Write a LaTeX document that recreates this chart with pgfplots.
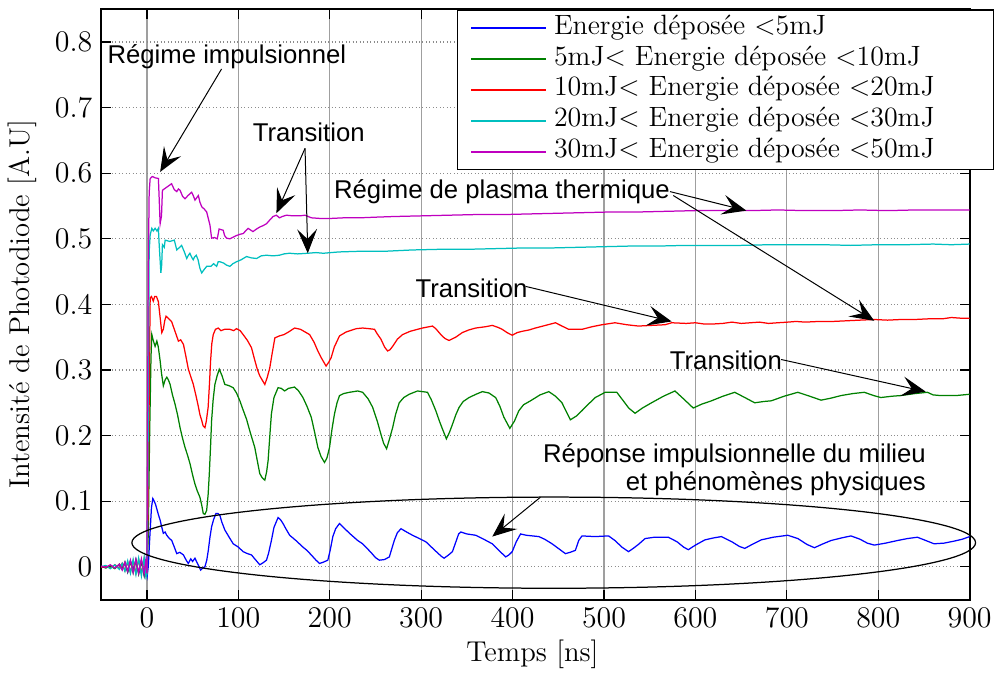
\documentclass[border=0pt]{standalone}
\usepackage{fontspec}
\usepackage{pgfplots}
\pgfplotsset{compat=1.18}
\usetikzlibrary{arrows.meta}
\newfontfamily\annot{Liberation Sans}
\definecolor{mblue}{rgb}{0,0,1}
\definecolor{mgreen}{rgb}{0,0.5,0}
\definecolor{mred}{rgb}{1,0,0}
\definecolor{mcyan}{rgb}{0,0.75,0.75}
\definecolor{mmag}{rgb}{0.75,0,0.75}
\tikzset{ann/.style={-{Stealth[length=3.4mm,width=2.8mm,inset=1.4mm]},line width=0.4pt,black}}
\newcommand{\pad}{\hspace*{0.62cm}}
\begin{document}
\begin{tikzpicture}
\begin{axis}[
  scale only axis, width=12.236cm, height=8.316cm,
  xmin=-50, xmax=900, ymin=-0.05, ymax=0.85,
  xtick={0,100,200,300,400,500,600,700,800,900},
  ytick={0,0.1,0.2,0.3,0.4,0.5,0.6,0.7,0.8},
  yticklabel style={/pgf/number format/fixed,/pgf/number format/precision=1},
  ticklabel style={font=\fontsize{11.5}{13}\selectfont},
  tick align=inside, tick pos=both, xticklabel pos=lower, yticklabel pos=left,
  major tick length=4pt, tick style={black, line width=0.5pt},
  axis line style={line width=0.8pt},
  xmajorgrids, ymajorgrids,
  x grid style={gray!75, line width=0.5pt},
  y grid style={gray!90, densely dotted, line width=0.5pt},
  xlabel={Temps [ns]},
  ylabel={Intensité de Photodiode [A.U]},
  label style={font=\fontsize{11.5}{13}\selectfont},
  xlabel style={at={(rel axis cs:0.4966,-0.092)}, anchor=center},
  ylabel style={at={(rel axis cs:-0.0904,0.5)}, anchor=center},
  clip=false,
  legend style={at={(rel axis cs:0.4096,1)}, anchor=north west, draw=black, line width=0.5pt,
    font=\fontsize{11.2}{12}\selectfont, inner xsep=5pt, inner ysep=1pt, row sep=0pt, column sep=2pt,
    nodes={inner sep=1pt, text height=7.7pt, text depth=2.7pt}},
  legend cell align=left,
  legend image code/.code={\draw[#1,line width=0.8pt] (0cm,0cm) -- (1.05cm,0cm);},
  every axis plot/.append style={line width=0.5pt},
]
% blue
\addplot[mblue] coordinates {
(-50,0.000)(-45,-0.001)(-40,0.002)(-35,-0.002)(-30,0.003)(-27,-0.004)(-24,0.006)(-21,-0.008)(-18,0.009)(-15,-0.006)(-12,0.011)(-9,-0.010)(-6,0.009)(-3,-0.012)(-1,0.010)(0.5,-0.012)
(1.5,0.000)(3,0.040)(5,0.090)(6.5,0.104)(8,0.100)(9.5,0.095)(10.9,0.088)(12.5,0.080)(14.5,0.071)(16,0.062)(18,0.051)(20,0.053)(21.8,0.048)(24,0.044)(27.2,0.040)(30,0.030)(32.7,0.020)(36,0.022)(40,0.018)(43,0.010)(45.3,0.005)(48,0.012)(50,0.008)(52.6,0.013)(55,0.006)(58.8,-0.005)(61,-0.002)(63.5,0.000)(65.5,0.010)(67.2,0.025)(69,0.045)(70.8,0.061)(73,0.072)(75.5,0.081)(78,0.081)(79.9,0.078)(82,0.068)(85.3,0.056)(90,0.045)(94.4,0.035)(100,0.030)(105.3,0.023)(110,0.020)(114.4,0.018)(118,0.012)(123.5,0.003)(127,0.006)(130.8,0.010)(133,0.020)(136.2,0.040)(139,0.060)(143.5,0.075)(146,0.072)(148.9,0.066)(152,0.058)(156.2,0.048)(163,0.040)(170.7,0.030)(175,0.025)(179.8,0.018)(185,0.010)(188.9,0.005)(193,0.007)(197.9,0.010)(200.5,0.025)(203.4,0.046)(206.5,0.058)(210.7,0.066)(215,0.060)(221.6,0.051)(230.6,0.040)(236,0.035)(245,0.022)(250,0.014)(254.3,0.010)(260,0.011)(265.2,0.015)(268,0.028)(270.6,0.040)(274,0.052)(278,0.058)(284,0.053)(290.6,0.048)(298,0.043)(305.2,0.038)(315,0.025)(322,0.016)(325.1,0.013)(330,0.018)(334.2,0.023)(338,0.038)(341,0.050)(343.3,0.053)(350,0.050)(359.7,0.048)(367,0.043)(377.8,0.035)(385,0.025)(392.4,0.015)(396,0.018)(399.6,0.023)(404,0.038)(408.7,0.050)(415,0.048)(428.7,0.046)(435,0.042)(443.2,0.035)(450,0.028)(457.8,0.020)(463,0.022)(468.7,0.025)(472.3,0.040)(475.9,0.047)(490,0.046)(505,0.047)(512,0.040)(519.5,0.030)(526.8,0.023)(532,0.028)(537.6,0.034)(545,0.043)(555,0.045)(570.4,0.045)(580,0.038)(587,0.030)(592.2,0.026)(600,0.033)(610.4,0.041)(620,0.044)(628.5,0.046)(640,0.038)(648,0.031)(654,0.028)(662,0.034)(672,0.041)(685,0.045)(701,0.048)(712,0.043)(722,0.034)(730.2,0.029)(738,0.034)(748.3,0.040)(760,0.044)(770.1,0.047)(780,0.042)(788,0.036)(795.6,0.033)(808,0.036)(821,0.040)(832,0.043)(842.8,0.045)(852,0.040)(861,0.035)(872,0.036)(882.8,0.039)(892,0.042)(900,0.046)
};
\addlegendentry{Energie déposée <5mJ\pad}
% green
\addplot[mgreen] coordinates {
(-50,0.001)(-45,-0.002)(-40,0.001)(-35,-0.003)(-30,0.004)(-27,-0.003)(-24,0.007)(-21,-0.008)(-18,0.008)(-15,-0.009)(-12,0.010)(-9,-0.011)(-6,0.009)(-3,-0.013)(-1,0.011)(0,-0.010)
(1.5,0.050)(3,0.200)(4.5,0.320)(5.4,0.354)(7,0.345)(9,0.336)(10.9,0.344)(12.5,0.335)(14.5,0.314)(16,0.295)(18,0.276)(20,0.285)(21.8,0.289)(23.5,0.285)(25.4,0.278)(28,0.262)(30.8,0.248)(33.5,0.232)(36.3,0.212)(39,0.196)(41.7,0.182)(44.5,0.170)(47.2,0.157)(50,0.140)(52.6,0.126)(55,0.116)(58,0.106)(60,0.094)(61.7,0.081)(63.5,0.080)(65.4,0.086)(67,0.110)(68.3,0.142)(69.7,0.185)(70.8,0.223)(72.5,0.255)(74.4,0.278)(77,0.292)(79.2,0.301)(82,0.292)(85.3,0.278)(90,0.276)(94.4,0.273)(98,0.265)(101.7,0.253)(105,0.240)(109,0.225)(113,0.205)(118,0.182)(121,0.160)(123.5,0.142)(126,0.136)(129,0.132)(131,0.145)(132.6,0.162)(134.5,0.200)(136.2,0.233)(139,0.258)(143.5,0.273)(147,0.272)(150.7,0.268)(155,0.272)(161.6,0.274)(166,0.268)(170.7,0.258)(175,0.245)(179.8,0.228)(183.5,0.205)(187,0.182)(190.5,0.168)(194.3,0.159)(197,0.166)(199.8,0.182)(202.5,0.210)(205.2,0.233)(208,0.250)(210.7,0.261)(215,0.264)(221.6,0.266)(230.6,0.268)(236,0.266)(242,0.256)(247,0.243)(252,0.222)(256,0.202)(259,0.188)(262.2,0.180)(265,0.193)(268.8,0.212)(272,0.232)(276,0.250)(281,0.258)(287,0.263)(296,0.268)(306.9,0.266)(311,0.255)(316,0.238)(320,0.222)(323.3,0.210)(327.6,0.195)(331,0.205)(334.2,0.217)(338,0.232)(341.5,0.243)(346,0.252)(352.4,0.258)(360,0.263)(366.9,0.267)(374,0.265)(381.5,0.258)(386,0.245)(390.5,0.228)(397,0.211)(402,0.222)(406.9,0.238)(412,0.247)(419.6,0.253)(430,0.262)(439.6,0.267)(447,0.260)(454,0.250)(459,0.236)(463.2,0.224)(470,0.230)(475.9,0.238)(483,0.248)(490.5,0.258)(501.3,0.266)(514,0.266)(520,0.255)(527,0.242)(534,0.234)(542,0.242)(552,0.250)(565,0.260)(577.6,0.268)(587,0.256)(597.6,0.242)(607,0.248)(617.6,0.253)(630,0.260)(643,0.266)(654,0.258)(664.8,0.250)(675,0.252)(683,0.253)(697,0.260)(712,0.266)(725,0.260)(737.4,0.254)(748,0.257)(759.3,0.261)(772,0.264)(784.7,0.266)(795,0.261)(802.8,0.258)(815,0.260)(824.6,0.261)(840,0.264)(853.7,0.266)(860,0.262)(868.3,0.261)(885,0.261)(900,0.263)
};
\addlegendentry{5mJ< Energie déposée <10mJ\pad}
% red
\addplot[mred] coordinates {
(-50,-0.001)(-45,0.001)(-40,-0.002)(-35,0.003)(-30,-0.003)(-27,0.005)(-24,-0.006)(-21,0.007)(-18,-0.008)(-15,0.009)(-12,-0.010)(-9,0.011)(-6,-0.010)(-3,0.012)(-1,-0.013)(0,-0.010)
(1.5,0.100)(3,0.330)(3.6,0.410)(5,0.412)(7,0.405)(8.5,0.412)(10.5,0.412)(12.6,0.404)(14.5,0.380)(16.3,0.357)(18,0.362)(19.5,0.375)(21,0.382)(24,0.378)(27,0.374)(30,0.362)(34.5,0.344)(37,0.346)(40,0.339)(42.5,0.322)(45.4,0.301)(48,0.290)(50.8,0.278)(53.5,0.262)(56.2,0.245)(58,0.232)(60,0.223)(61.5,0.215)(63.5,0.212)(65,0.222)(67,0.243)(68.5,0.280)(69.7,0.314)(71,0.340)(72.6,0.354)(75,0.362)(78,0.364)(81,0.360)(85,0.362)(90.8,0.362)(95,0.360)(98,0.363)(102,0.360)(105.3,0.354)(110,0.345)(114.4,0.334)(118,0.315)(121,0.300)(123.5,0.291)(126,0.285)(129,0.278)(131.5,0.288)(134.4,0.303)(137,0.325)(140,0.349)(145,0.352)(150,0.354)(155,0.358)(161.6,0.364)(168,0.362)(173,0.358)(178,0.354)(183,0.342)(187,0.329)(191,0.318)(196,0.306)(199,0.312)(201.6,0.319)(205,0.335)(210.7,0.352)(218,0.358)(229,0.363)(236,0.364)(243,0.363)(249,0.362)(252,0.355)(256,0.347)(260,0.335)(263.3,0.329)(266,0.331)(268.8,0.336)(274,0.347)(279.7,0.354)(288,0.359)(296,0.362)(301.5,0.364)(312.4,0.367)(316,0.363)(321.5,0.354)(326,0.348)(330.6,0.345)(337.8,0.350)(345,0.357)(352,0.361)(359.7,0.364)(370.6,0.366)(377.8,0.368)(384,0.365)(388.7,0.362)(394,0.357)(399.6,0.353)(405,0.357)(410.5,0.359)(418,0.361)(425,0.364)(436,0.368)(446.9,0.372)(454,0.367)(461.4,0.362)(468,0.362)(475.9,0.362)(487,0.366)(497.7,0.369)(512,0.372)(525,0.369)(537.6,0.367)(552,0.368)(566.8,0.369)(574,0.372)(590,0.371)(600,0.372)(610,0.370)(617.5,0.370)(630,0.371)(640,0.373)(650,0.371)(660,0.372)(670,0.373)(680,0.371)(690,0.372)(701,0.373)(710,0.374)(720,0.373)(735,0.374)(750,0.374)(765,0.375)(780,0.376)(795.6,0.377)(810,0.376)(825,0.377)(840,0.377)(855,0.378)(870,0.378)(880,0.380)(890,0.379)(900,0.379)
};
\addlegendentry{10mJ< Energie déposée <20mJ\pad}
% cyan
\addplot[mcyan] coordinates {
(-50,0.000)(-45,0.002)(-40,-0.003)(-35,0.003)(-30,-0.004)(-27,0.005)(-24,-0.007)(-21,0.009)(-18,-0.010)(-15,0.011)(-12,-0.012)(-9,0.013)(-6,-0.014)(-3,0.014)(-1,-0.016)(0,-0.012)
(1,0.100)(2,0.350)(2.5,0.480)(3.6,0.506)(5.4,0.516)(7,0.512)(9,0.516)(11,0.512)(12.6,0.516)(13.5,0.490)(15.3,0.448)(16.2,0.460)(17,0.491)(19,0.487)(20,0.498)(25,0.496)(30,0.498)(32.7,0.483)(35,0.486)(38,0.490)(41,0.480)(43.6,0.470)(45,0.474)(47,0.478)(49,0.472)(50.7,0.468)(52,0.472)(54,0.475)(56,0.468)(58,0.455)(60,0.448)(62,0.452)(65.4,0.458)(70,0.458)(73,0.462)(76.3,0.458)(78,0.465)(80,0.465)(84,0.463)(87,0.460)(90.8,0.458)(94,0.462)(98,0.465)(103,0.468)(109,0.473)(114,0.471)(120,0.470)(125,0.474)(130.8,0.475)(138,0.474)(145,0.475)(150,0.477)(156,0.478)(165,0.477)(176,0.478)(185,0.479)(193,0.478)(210,0.480)(232.5,0.481)(260,0.481)(290,0.483)(320,0.484)(350,0.484)(380,0.485)(410,0.486)(440,0.486)(470,0.487)(500,0.488)(530,0.489)(560,0.489)(590,0.490)(620,0.490)(650,0.490)(680,0.491)(710,0.491)(740,0.491)(770,0.490)(800,0.491)(830,0.491)(860,0.492)(880,0.491)(900,0.492)
};
\addlegendentry{20mJ< Energie déposée <30mJ\pad}
% magenta
\addplot[mmag] coordinates {
(-50,0.001)(-45,-0.001)(-40,0.003)(-35,-0.002)(-30,0.004)(-27,-0.005)(-24,0.007)(-21,-0.007)(-18,0.010)(-15,-0.009)(-12,0.011)(-9,-0.010)(-6,0.012)(-3,-0.011)(-1,0.012)(0,-0.010)
(0.7,0.200)(1.5,0.450)(2.5,0.570)(3.6,0.592)(6,0.595)(9,0.593)(12.6,0.592)(13.5,0.560)(14.5,0.523)(16,0.535)(17,0.574)(20,0.577)(23,0.580)(27,0.584)(30,0.575)(32.7,0.572)(34.5,0.576)(36.3,0.574)(39,0.565)(41.7,0.561)(45,0.566)(49,0.571)(51,0.565)(52.6,0.559)(56.3,0.566)(58,0.556)(60,0.549)(63,0.545)(65.4,0.541)(67,0.532)(69,0.521)(70.8,0.501)(74,0.502)(77,0.500)(79,0.515)(83.5,0.513)(85,0.505)(87.2,0.501)(90.8,0.500)(95,0.503)(98,0.505)(102,0.507)(105.3,0.508)(110.7,0.516)(116,0.511)(120,0.515)(123.5,0.518)(127,0.520)(130.8,0.523)(134,0.528)(138,0.534)(141.7,0.536)(145,0.532)(148,0.534)(152.6,0.536)(160,0.535)(167,0.535)(173,0.536)(180,0.532)(190,0.531)(200,0.531)(215,0.532)(232.5,0.532)(250,0.533)(270,0.534)(300,0.535)(330,0.536)(360,0.537)(390,0.537)(420,0.538)(450,0.539)(480,0.540)(510,0.541)(540,0.541)(570,0.542)(600,0.543)(630,0.543)(660,0.543)(690,0.544)(720,0.543)(750,0.543)(780,0.544)(810,0.543)(840,0.544)(870,0.544)(900,0.544)
};
\addlegendentry{30mJ< Energie déposée <50mJ\pad}
% annotations
\node[font=\annot\fontsize{10.3}{11.2}\selectfont, inner sep=0pt] at (axis cs:87.5,0.778) {Régime impulsionnel};
\draw[ann] (axis cs:81.7,0.759) -- (axis cs:14.5,0.602);
\node[font=\annot\fontsize{10.3}{11.2}\selectfont, inner sep=0pt] at (axis cs:177,0.663) {Transition};
\draw[ann] (axis cs:173,0.638) -- (axis cs:141.7,0.539);
\draw[ann] (axis cs:173,0.638) -- (axis cs:176,0.478);
\node[font=\annot\fontsize{10.3}{11.2}\selectfont, inner sep=0pt] at (axis cs:388.3,0.572) {Régime de plasma thermique};
\draw[ann] (axis cs:572.2,0.572) -- (axis cs:655.7,0.543);
\draw[ann] (axis cs:575.8,0.566) -- (axis cs:795.6,0.375);
\node[font=\annot\fontsize{10.3}{11.2}\selectfont, inner sep=0pt] at (axis cs:355,0.425) {Transition};
\draw[ann] (axis cs:414.2,0.4275) -- (axis cs:574,0.374);
\node[font=\annot\fontsize{10.3}{11.2}\selectfont, inner sep=0pt] at (axis cs:633.3,0.315) {Transition};
\draw[ann] (axis cs:693.8,0.316) -- (axis cs:851.9,0.267);
\node[font=\annot\fontsize{10.3}{11.2}\selectfont, inner sep=0pt, align=right, anchor=east] at (axis cs:852.6,0.148) {Réponse impulsionnelle du milieu\\et phénomènes physiques};
\draw[ann] (axis cs:430.5,0.106) -- (axis cs:377.8,0.046);
\draw[line width=0.5pt] (axis cs:445,0.0367) ellipse [x radius=461.4, y radius=0.0695];
\path (rel axis cs:-0.1156,-0.1173) rectangle (rel axis cs:1.0286,1.0157);
\end{axis}
\end{tikzpicture}
\end{document}
